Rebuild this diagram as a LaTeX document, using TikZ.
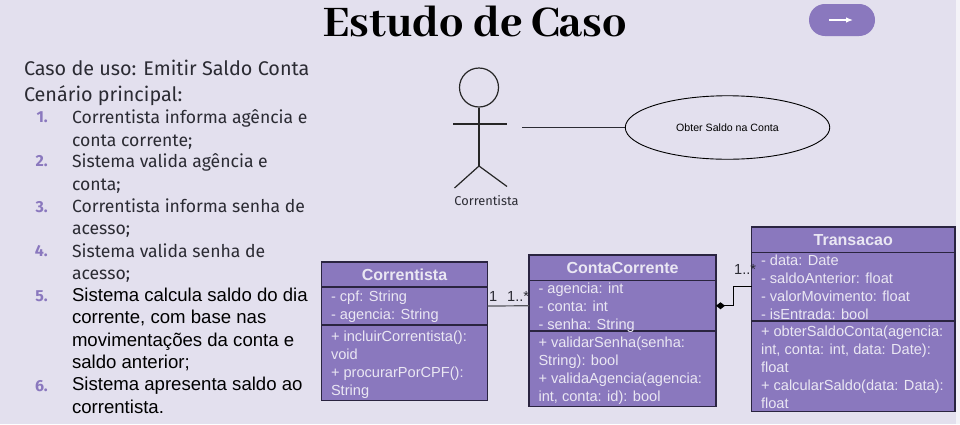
\documentclass[tikz,border=0pt]{standalone}
\usepackage{fontspec}
\setmainfont{Liberation Sans}
\newfontfamily\bodyfont{Fira Sans}
\newfontfamily\titlefont{Abhaya Libre ExtraBold}
\usetikzlibrary{arrows.meta,shapes.geometric}
\definecolor{bgc}{HTML}{E3E0EE}
\definecolor{purp}{HTML}{8A78BE}
\definecolor{light}{HTML}{EAE7F3}
\definecolor{lin}{HTML}{2A2440}
\definecolor{ink}{HTML}{2B2B33}
\tikzset{
  x=1pt,y=-1pt,
  cbox/.style={draw=lin,fill=purp,line width=1.1pt,rectangle,inner sep=0pt,outer sep=0pt,anchor=north west,text=light,font=\fontsize{14.6}{18}\selectfont,align=left},
  chead/.style={cbox,font=\fontsize{16}{18}\selectfont\bfseries,align=center},
  stick/.style={draw=black!85,line width=1.2pt},
  txt/.style={anchor=north west,inner sep=0pt,outer sep=0pt,align=left,text=ink},
  ctext/.style={txt,text=light,font=\fontsize{14.6}{18}\selectfont},
  itemb/.style={txt,font=\bodyfont\fontsize{17.6}{22.1}\selectfont},
  itema/.style={txt,text=black,font=\fontsize{18.6}{22.5}\selectfont},
  numb/.style={anchor=base east,inner sep=0pt,text=purp,font=\bodyfont\fontsize{16}{20}\selectfont\bfseries},
  mult/.style={anchor=base west,inner sep=0pt,text=ink,font=\fontsize{14.6}{16}\selectfont},
}
\begin{document}
\begin{tikzpicture}
\useasboundingbox (0,0) rectangle (960,424);
\fill[bgc] (0,0) rectangle (960,424);
\fill[white!60!bgc] (956,0) rectangle (960,424);

% title
\node[anchor=base,inner sep=0pt,text=black,font=\titlefont\fontsize{48}{50}\selectfont] (title) at (475,36) {Estudo de Caso};

% button
\node[fill=purp,rounded corners=15.9pt,minimum width=66pt,minimum height=32pt,inner sep=0pt] (btn) at (842,20) {};
\coordinate (ba) at (829,20);
\coordinate (bb) at (853,20);
\draw[white,line width=1.2pt,-{Latex[length=7pt,width=5.5pt]}] (ba) -- (bb);

% left text
\node[txt,font=\bodyfont\fontsize{19.8}{26}\selectfont] (head) at (24,60) {Caso de uso: Emitir Saldo Conta\\Cenário principal:};
\node[itemb] (i1) at (72,110) {Correntista informa agência e\\conta corrente;};
\node[itemb] (i2) at (72,154) {Sistema valida agência e\\conta;};
\node[itemb] (i3) at (72,199) {Correntista informa senha de\\acesso;};
\node[itemb] (i4) at (72,244) {Sistema valida senha de\\acesso;};
\node[itema] (i5) at (72,288) {Sistema calcula saldo do dia\\corrente, com base nas\\movimentações da conta e\\saldo anterior;};
\node[itema] (i6) at (72,377.5) {Sistema apresenta saldo ao\\correntista.};
\node[numb] (n1) at (48,122.5) {1.};
\node[numb] (n2) at (48,166.5) {2.};
\node[numb] (n3) at (48,212) {3.};
\node[numb] (n4) at (48,256.5) {4.};
\node[numb] (n5) at (48,301.5) {5.};
\node[numb] (n6) at (48,391) {6.};

% actor
\node[draw=black!85,line width=1.2pt,circle,minimum size=39pt,inner sep=0pt] (head1) at (479,87.5) {};
\coordinate (armL) at (453,124);
\coordinate (armR) at (507,124);
\coordinate (hip) at (479,166);
\coordinate (legL) at (454.5,188);
\coordinate (legR) at (507,186.5);
\draw[stick] (head1.south) -- (hip);
\draw[stick] (armL) -- (armR);
\draw[stick] (legL) -- (hip) -- (legR);
\node[inner sep=0pt,text=ink,font=\bodyfont\fontsize{12.8}{14}\selectfont] (actlabel) at (486.5,200.5) {Correntista};

% use case
\node[draw=black,line width=.9pt,ellipse,minimum width=204.5pt,minimum height=63.5pt,inner sep=0pt,font=\fontsize{10.6}{12}\selectfont,text=black] (uc) at (727.5,127.5) {Obter Saldo na Conta};
\coordinate (actEnd) at (522,127.5);
\draw[draw=ink,line width=1.2pt] (actEnd) -- (uc.west);

% Correntista
\node[chead,minimum width=166pt,minimum height=25pt] (cH) at (321.5,262) {Correntista};
\node[cbox,minimum width=166pt,minimum height=38pt] (cA) at (321.5,287) {};
\node[cbox,minimum width=166pt,minimum height=75.5pt] (cM) at (321.5,325) {};
\node[ctext] (cAt) at (331,291) {- cpf: String\\- agencia: String};
\node[ctext] (cMt) at (331,330.5) {+ incluirCorrentista():\\void\\+ procurarPorCPF():\\String};

% ContaCorrente
\node[chead,minimum width=187pt,minimum height=25.5pt] (oH) at (529,255) {ContaCorrente};
\node[cbox,minimum width=187pt,minimum height=50.5pt] (oA) at (529,280.5) {};
\node[cbox,minimum width=187pt,minimum height=75.5pt] (oM) at (529,331) {};
\node[ctext] (oAt) at (538.5,282.5) {- agencia: int\\- conta: int\\- senha: String};
\node[ctext] (oMt) at (538.5,336.5) {+ validarSenha(senha:\\String): bool\\+ validaAgencia(agencia:\\int, conta: id): bool};

% Transacao
\node[chead,minimum width=203.5pt,minimum height=25.5pt] (tH) at (751.5,227) {Transacao};
\node[cbox,minimum width=203.5pt,minimum height=68.5pt] (tA) at (751.5,252.5) {};
\node[cbox,minimum width=203.5pt,minimum height=90.5pt] (tM) at (751.5,321) {};
\node[ctext] (tAt) at (761,254.5) {- data: Date\\- saldoAnterior: float\\- valorMovimento: float\\- isEntrada: bool};
\node[ctext] (tMt) at (761,325.5) {+ obterSaldoConta(agencia:\\int, conta: int, data: Date):\\float\\+ calcularSaldo(data: Data):\\float};

% connectors
\draw[draw=ink!80,line width=1.2pt] (cA.east) -- (oA.west);
\draw[draw=black,line width=1pt,{Diamond[length=9pt,width=7pt,fill=black]}-] (oA.east) -- ++(17.5,0) |- (tA.west);
\node[mult] (m1) at (489,301) {1};
\node[mult] (m2) at (507,301) {1..*};
\node[mult] (m3) at (734,274) {1..*};
\end{tikzpicture}
\end{document}
